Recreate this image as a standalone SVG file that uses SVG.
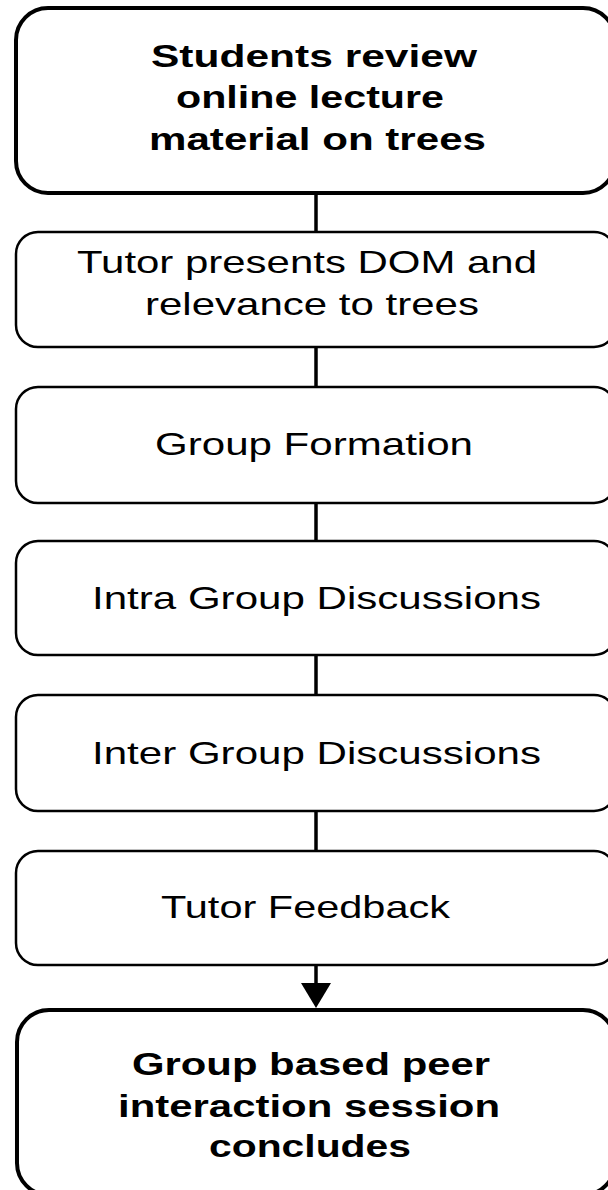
<svg xmlns="http://www.w3.org/2000/svg" width="608" height="1190" viewBox="0 0 608 1190">
<style>
.bg{fill:#fff}
.thick{fill:#fff;stroke:#000;stroke-width:4}
.thin{fill:#fff;stroke:#000;stroke-width:2.5}
.t{font-family:"Liberation Sans",Arial,sans-serif;font-size:32px;fill:#000}
.b{font-weight:bold}
.conn{stroke:#000;stroke-width:3.5;fill:none}
</style>
<defs>
<marker id="arr" markerUnits="userSpaceOnUse" markerWidth="30" markerHeight="26" refX="30" refY="15" orient="auto" viewBox="0 0 30 30">
<path d="M0,0 L30,15 L0,30 Z" fill="#000"/>
</marker>
</defs>
<rect class="bg" x="0" y="0" width="608" height="1190"/>
<g id="connectors">
<line class="conn" x1="316" y1="193" x2="316" y2="232"/>
<line class="conn" x1="316" y1="347" x2="316" y2="387"/>
<line class="conn" x1="316" y1="503" x2="316" y2="541"/>
<line class="conn" x1="316" y1="655" x2="316" y2="695"/>
<line class="conn" x1="316" y1="811" x2="316" y2="851"/>
<line class="conn" x1="316" y1="965" x2="316" y2="985"/>
<path d="M301,983 L331,983 L316,1008 Z" fill="#000"/>
</g>
<g id="n1">
<rect class="thick" x="16" y="8" width="599" height="185" rx="32" ry="32"/>
<text class="t b" x="151" y="67" textLength="326" lengthAdjust="spacingAndGlyphs">Students review</text>
<text class="t b" x="176" y="108" textLength="268" lengthAdjust="spacingAndGlyphs">online lecture</text>
<text class="t b" x="149" y="150" textLength="337" lengthAdjust="spacingAndGlyphs">material on trees</text>
</g>
<g id="n2">
<rect class="thin" x="16" y="232" width="600" height="115" rx="22" ry="22"/>
<text class="t" x="77" y="273" textLength="460" lengthAdjust="spacingAndGlyphs">Tutor presents DOM and</text>
<text class="t" x="145" y="315" textLength="334" lengthAdjust="spacingAndGlyphs">relevance to trees</text>
</g>
<g id="n3">
<rect class="thin" x="16" y="387" width="600" height="116" rx="22" ry="22"/>
<text class="t" x="155" y="455" textLength="318" lengthAdjust="spacingAndGlyphs">Group Formation</text>
</g>
<g id="n4">
<rect class="thin" x="16" y="541" width="600" height="114" rx="22" ry="22"/>
<text class="t" x="92" y="609" textLength="449" lengthAdjust="spacingAndGlyphs">Intra Group Discussions</text>
</g>
<g id="n5">
<rect class="thin" x="16" y="695" width="600" height="116" rx="22" ry="22"/>
<text class="t" x="92" y="764" textLength="449" lengthAdjust="spacingAndGlyphs">Inter Group Discussions</text>
</g>
<g id="n6">
<rect class="thin" x="16" y="851" width="600" height="114" rx="22" ry="22"/>
<text class="t" x="161" y="918" textLength="289" lengthAdjust="spacingAndGlyphs">Tutor Feedback</text>
</g>
<g id="n7">
<rect class="thick" x="17" y="1010" width="598" height="185" rx="32" ry="32"/>
<text class="t b" x="132" y="1075" textLength="358" lengthAdjust="spacingAndGlyphs">Group based peer</text>
<text class="t b" x="118" y="1117" textLength="382" lengthAdjust="spacingAndGlyphs">interaction session</text>
<text class="t b" x="209" y="1157" textLength="202" lengthAdjust="spacingAndGlyphs">concludes</text>
</g>
</svg>
